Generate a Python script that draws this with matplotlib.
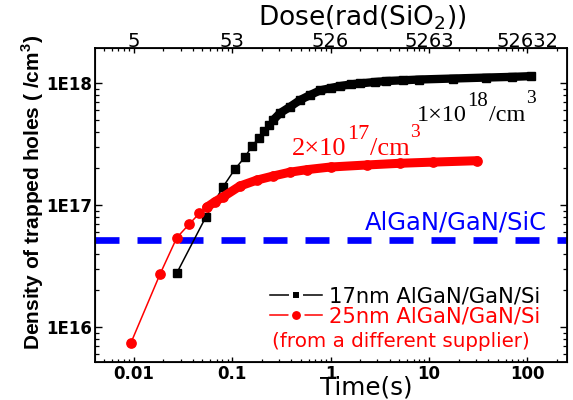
#!/usr/bin/env python
# -*- coding: utf-8 -*-
"""
Densidade de buracos aprisionados em funcao do tempo (e da dose) de irradiacao.
"""

import numpy as np
import matplotlib
matplotlib.use('Agg')
import matplotlib.pyplot as plt
from matplotlib.lines import Line2D
from matplotlib.ticker import NullFormatter
from matplotlib import font_manager

# Dados
tempo_17nm = [0.0275, 0.054, 0.081, 0.107, 0.135, 0.16, 0.188, 0.211, 0.236, 0.262,
              0.307, 0.388, 0.49, 0.62, 0.78, 1.0, 1.25, 1.6, 2.0, 2.8, 3.7, 5.5,
              8.0, 17.5, 38.0, 70.0, 108.0]
dens_17nm = [2.77e16, 7.93e16, 1.41e17, 1.97e17, 2.47e17, 3.06e17, 3.56e17, 4.02e17,
             4.5e17, 4.98e17, 5.67e17, 6.39e17, 7.26e17, 7.98e17, 8.7e17, 9.1e17,
             9.45e17, 9.75e17, 9.95e17, 1.02e18, 1.04e18, 1.055e18, 1.07e18, 1.09e18,
             1.11e18, 1.125e18, 1.14e18]

tempo_25nm = [0.0094, 0.0186, 0.0275, 0.0368, 0.0466, 0.0553, 0.0672, 0.0816, 0.12,
              0.178, 0.262, 0.388, 0.573, 1.0, 2.33, 5.08, 11.1, 31.0]
dens_25nm = [7.4e15, 2.72e16, 5.4e16, 6.98e16, 8.55e16, 9.58e16, 1.065e17, 1.17e17,
             1.43e17, 1.6e17, 1.73e17, 1.86e17, 1.95e17, 2.05e17, 2.13e17, 2.2e17,
             2.25e17, 2.31e17]

# nivel de referencia AlGaN/GaN/SiC
nivel_sic = 5.17e16

x_ticks = [0.01, 0.1, 1, 10, 100]
x_labels = ['0.01', '0.1', '1', '10', '100']
dose_labels = ['5', '53', '526', '5263', '52632']
y_ticks = [1e16, 1e17, 1e18]
y_labels = ['1E16', '1E17', '1E18']

legenda = ['17nm AlGaN/GaN/Si', '25nm AlGaN/GaN/Si']


def texto_potencia(ax, x, y, partes, cor, tamanhos, subidas):
    """Escreve '1x10^18/cm^3' em pedacos, com expoentes quase do mesmo tamanho."""
    base = ax.text(x, y, partes[0], transform=ax.transAxes, color=cor,
                   fontsize=tamanhos[0], family='Liberation Serif',
                   ha='left', va='baseline')
    anterior = base
    for txt, tam, sobe in zip(partes[1:], tamanhos[1:], subidas):
        # x logo depois do pedaco anterior, y sempre medido a partir da base
        anterior = ax.annotate(txt, xy=(1, 0), xycoords=(anterior, base),
                               xytext=(0.4, sobe), textcoords='offset points',
                               color=cor, fontsize=tam, family='Liberation Serif',
                               ha='left', va='bottom')


def criar_grafico():
    plt.rcParams['font.family'] = 'DejaVu Sans'
    nomes = {f.name for f in font_manager.fontManager.ttflist}
    if 'Liberation Sans Narrow' in nomes:
        fonte_y, tam_y = 'Liberation Sans Narrow', 18
    else:
        fonte_y, tam_y = 'Liberation Sans', 15
    plt.rcParams['mathtext.fontset'] = 'custom'
    plt.rcParams['mathtext.rm'] = 'DejaVu Sans'
    plt.rcParams['mathtext.bf'] = fonte_y + ':bold'

    fig = plt.figure(figsize=(5.73, 4), dpi=100)
    ax = fig.add_axes([95 / 573, 38 / 400, 472 / 573, 314 / 400])
    ax.set_xscale('log')
    ax.set_yscale('log')

    t17 = np.array(tempo_17nm)
    n17 = np.array(dens_17nm)
    t25 = np.array(tempo_25nm)
    n25 = np.array(dens_25nm)

    # linha de referencia
    ax.axhline(nivel_sic, color='#0000ff', lw=4.8, dashes=(3.6, 2.7), zorder=2)

    # 17 nm: pontos isolados no inicio, depois viram uma faixa continua
    ax.plot(t17, n17, '-', color='black', lw=1.1, marker='s', ms=6, zorder=3)
    m = t17 >= 0.26
    ax.plot(t17[m], n17[m], '-', color='black', lw=6.0, solid_capstyle='butt', zorder=3)

    # 25 nm
    ax.plot(t25, n25, '-', color='red', lw=1.1, marker='o', ms=6.7, zorder=4)
    m = t25 >= 0.055
    ax.plot(t25[m], n25[m], '-', color='red', lw=6.5, solid_capstyle='round', zorder=4)

    ax.set_xlim(0.00406, 252)
    ax.set_ylim(5.16e15, 1.94e18)

    ax.set_xticks(x_ticks)
    ax.set_xticklabels(x_labels, fontsize=12, fontweight='bold')
    ax.set_yticks(y_ticks)
    ax.set_yticklabels(y_labels, fontsize=12, fontweight='bold')
    ax.xaxis.set_minor_formatter(NullFormatter())
    ax.yaxis.set_minor_formatter(NullFormatter())

    ax.tick_params(which='both', direction='in', top=False, right=True)
    ax.tick_params(axis='y', which='major', length=5, width=1, pad=2)
    ax.tick_params(axis='y', which='minor', length=3, width=0.9)
    ax.tick_params(axis='x', which='major', length=3.8, width=1, pad=2)
    ax.tick_params(axis='x', which='minor', length=2.3, width=0.9)
    for s in ax.spines.values():
        s.set_linewidth(1.3)

    # eixo superior com a dose
    ax2 = ax.twiny()
    ax2.set_xscale('log')
    ax2.set_xlim(ax.get_xlim())
    ax2.set_xticks(x_ticks)
    ax2.set_xticklabels(dose_labels, fontsize=14)
    ax2.xaxis.set_minor_formatter(NullFormatter())
    ax2.tick_params(which='both', direction='in')
    ax2.tick_params(which='major', length=3.8, width=1, pad=-2)
    ax2.tick_params(which='minor', length=2.3, width=0.9)

    fig.text(362 / 573, 1 - 25 / 400, 'Dose(rad(SiO$_2$))', fontsize=19,
             ha='center', va='baseline')
    fig.text(366.5 / 573, 1 - 394 / 400, 'Time(s)', fontsize=17.7,
             ha='center', va='baseline')
    fig.text(33 / 573, 1 - 192 / 400, 'Density of trapped holes ( /cm$^\\mathbf{3}$)',
             family=fonte_y, fontweight='bold', fontsize=tam_y, rotation=90,
             ha='center', va='center')

    # rotulos das curvas
    texto_potencia(ax, 0.6822, 0.7675, ['1\u00d710', '18', '/cm', '3'], 'black',
                   [17.5, 15, 17.5, 14], [10.5, 0, 13.6])
    texto_potencia(ax, 0.4174, 0.6592, ['2\u00d710', '17', '/cm', '3'], 'red',
                   [19, 16, 19, 14], [11.5, 0, 13.4])
    ax.text(0.572, 0.4204, 'AlGaN/GaN/SiC', transform=ax.transAxes, color='#0000ff',
            fontsize=17.5, ha='left', va='baseline')

    # legenda (linha interrompida em volta do marcador)
    handles = [
        Line2D([], [], color='black', lw=1.1, marker='s', ms=7.9,
               mfc='black', mec='white', mew=2.9),
        Line2D([], [], color='red', lw=1.1, marker='o', ms=9.0,
               mfc='red', mec='white', mew=2.6),
    ]
    ax.legend(handles, legenda, loc='upper left', bbox_to_anchor=(0.3708, 0.24),
              frameon=False, borderpad=0, borderaxespad=0, handlelength=2.45,
              handletextpad=0.33, labelspacing=0.0, fontsize=15.2,
              labelcolor=['black', 'red'])
    ax.text(0.375, 0.0478, '(from a different supplier)', transform=ax.transAxes,
            color='red', fontsize=14.3, ha='left', va='baseline')

    plt.savefig('out.png', dpi=100, facecolor='white', edgecolor='none')
    plt.close()


if __name__ == '__main__':
    criar_grafico()
